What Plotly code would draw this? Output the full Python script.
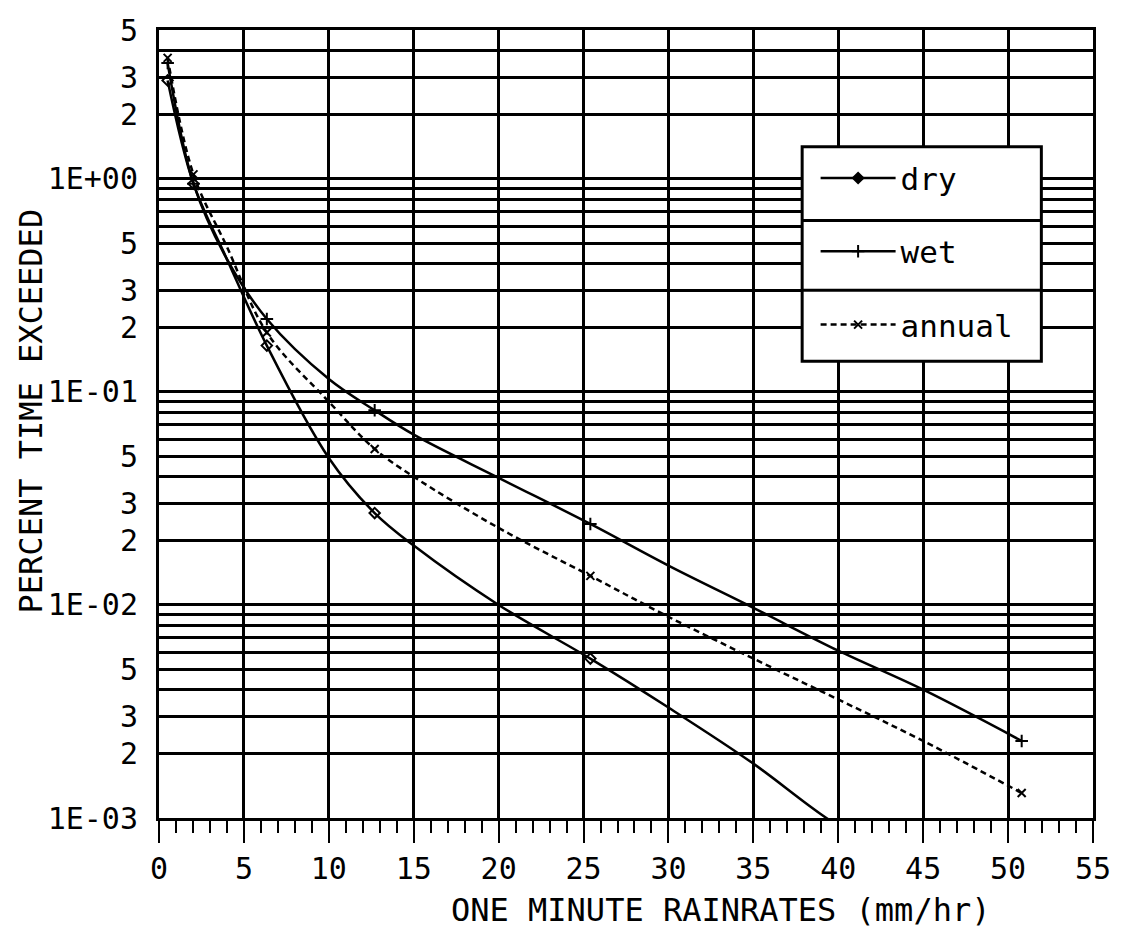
import plotly.graph_objects as go

# ---- data ----
dry_x = [0.508, 2.03, 4.0, 6.35, 10.0, 12.7, 15.0, 20.0, 25.4, 30.0, 35.0, 39.3, 45.0, 50.8]
dry_y = [2.9, 0.95, 0.42, 0.165, 0.049, 0.027, 0.019, 0.0100, 0.0056, 0.0033, 0.0018, 0.0010, 0.00052, 0.00028]

wet_x = [0.508, 2.03, 4.0, 6.35, 10.0, 12.7, 15.0, 20.0, 25.4, 30.0, 35.0, 40.0, 45.0, 50.8]
wet_y = [3.5, 0.95, 0.42, 0.22, 0.115, 0.082, 0.063, 0.0395, 0.024, 0.0153, 0.0097, 0.0061, 0.0040, 0.0023]

ann_x = [0.508, 2.03, 4.0, 6.35, 10.0, 12.7, 15.0, 20.0, 25.4, 30.0, 35.0, 40.0, 45.0, 50.8]
ann_y = [3.7, 1.05, 0.48, 0.19, 0.09, 0.054, 0.040, 0.023, 0.0137, 0.0088, 0.0056, 0.0036, 0.0023, 0.00131]

# measurement points (markers)
mark_x = [0.508, 2.03, 6.35, 12.7, 25.4, 50.8]
dry_mark = [2.9, 0.95, 0.165, 0.027, 0.0056, 0.00028]
wet_mark = [3.5, 0.95, 0.22, 0.082, 0.024, 0.0023]
ann_mark = [3.7, 1.05, 0.19, 0.054, 0.0137, 0.00131]

y_tickvals = [5, 3, 2, 1, 0.5, 0.3, 0.2, 0.1, 0.05, 0.03, 0.02, 0.01, 0.005, 0.003, 0.002, 0.001]
y_ticktext = ["5", "3", "2", "1E+00", "5", "3", "2", "1E-01", "5", "3", "2", "1E-02", "5", "3", "2", "1E-03"]
y_grid = [m * 10.0 ** e for e in (-3, -2, -1, 0) for m in range(1, 10) if m * 10.0 ** e <= 5.0001]
x_tickvals = list(range(0, 56, 5))

FONT = "DejaVu Sans Mono"
fig = go.Figure()

series = [
    ("dry", dry_x, dry_y, dry_mark, "solid", "diamond-open", "diamond", 8),
    ("wet", wet_x, wet_y, wet_mark, "solid", "cross-thin-open", "cross-thin-open", 9),
    ("annual", ann_x, ann_y, ann_mark, "6px,4px", "x-thin-open", "x-thin-open", 8),
]
for name, xs, ys, ms, dash, sym, legsym, sz in series:
    fig.add_trace(go.Scatter(
        x=xs, y=ys, mode="lines", name=name, legendgroup=name,
        line=dict(color="black", width=2.5, dash=dash, shape="spline", smoothing=1.0),
        showlegend=False,
    ))
    fig.add_trace(go.Scatter(
        x=mark_x, y=ms, mode="markers", name=name, legendgroup=name,
        marker=dict(symbol=sym, size=sz, color="black", line=dict(color="black", width=2)),
        showlegend=False,
    ))
    # legend entry
    fig.add_trace(go.Scatter(
        x=[None], y=[None], mode="lines+markers", name=name, legendgroup=name,
        line=dict(color="black", width=2.5, dash=dash),
        marker=dict(symbol=legsym, size=sz, color="black", line=dict(color="black", width=2)),
        showlegend=True,
    ))

# legend box geometry (paper coords)
LX0, LX1, LY0, LY1 = 0.6886, 0.9447, 0.5797, 0.8519

fig.update_layout(
    width=1123, height=930,
    margin=dict(l=159, r=23, t=28, b=112),
    paper_bgcolor="white", plot_bgcolor="white",
    font=dict(family=FONT, size=30, color="black"),
    showlegend=True,
    legend=dict(
        x=0.703, y=0.846, xanchor="left", yanchor="top",
        bgcolor="rgba(0,0,0,0)", borderwidth=0,
        font=dict(family=FONT, size=31, color="black"),
        itemwidth=75, traceorder="grouped", tracegroupgap=30,
    ),
)

fig.update_xaxes(
    range=[0, 55], tickvals=x_tickvals, ticktext=[str(v) for v in x_tickvals],
    showgrid=True, gridcolor="black", gridwidth=2.5,
    showline=True, linecolor="black", linewidth=3, mirror=True,
    ticks="outside", ticklen=22, tickwidth=2, tickcolor="black",
    minor=dict(dtick=1, ticks="outside", ticklen=12, tickwidth=2, tickcolor="black", showgrid=False),
    zeroline=False, tickfont=dict(family=FONT, size=30),
)
fig.update_yaxes(
    type="log", range=[-3, 0.69897],
    tickvals=y_tickvals, ticktext=y_ticktext,
    showgrid=True, gridcolor="black", gridwidth=2.5,
    minor=dict(tickvals=y_grid, showgrid=True, gridcolor="black", gridwidth=2.5, ticks=""),
    showline=True, linecolor="black", linewidth=3, mirror=True,
    ticks="", ticklabelstandoff=12, zeroline=False,
    tickfont=dict(family=FONT, size=30),
)

fig.add_annotation(
    text="ONE MINUTE RAINRATES (mm/hr)", xref="paper", yref="paper",
    x=0.601, y=-0.117, xanchor="center", yanchor="middle", showarrow=False,
    font=dict(family=FONT, size=32),
)
fig.add_annotation(
    text="PERCENT TIME EXCEEDED", xref="paper", yref="paper",
    x=-0.137, y=0.516, xanchor="center", yanchor="middle", textangle=-90, showarrow=False,
    font=dict(family=FONT, size=32),
)

# legend frame and row dividers
fig.add_shape(type="rect", xref="paper", yref="paper", x0=LX0, x1=LX1, y0=LY0, y1=LY1,
              fillcolor="white", line=dict(color="black", width=3), layer="above")
for yy in (0.7582, 0.6696):
    fig.add_shape(type="line", xref="paper", yref="paper", x0=LX0, x1=LX1, y0=yy, y1=yy,
                  line=dict(color="black", width=3), layer="above")

fig.write_html("out.html")
